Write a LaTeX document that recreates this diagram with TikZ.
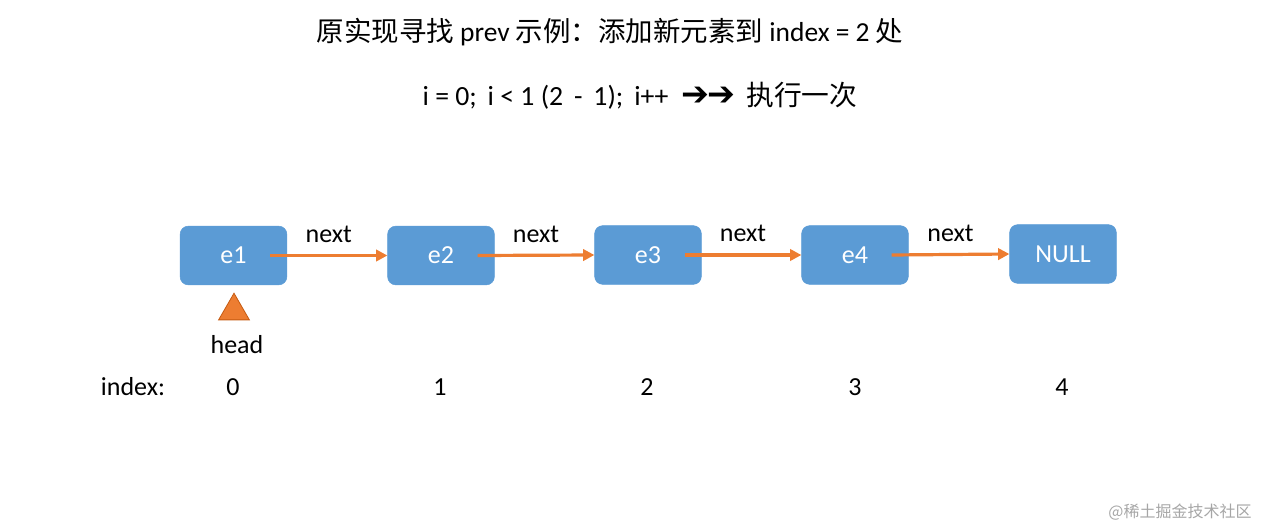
\documentclass[tikz,border=0pt]{standalone}
\usepackage{fontspec}
\setmainfont{Carlito}
\newfontfamily\cjk{Noto Sans CJK SC}
\newfontfamily\symf{DejaVu Sans}
\usetikzlibrary{arrows.meta,shapes.geometric}
\definecolor{boxblue}{HTML}{5B9BD5}
\definecolor{arrorange}{HTML}{ED7D31}
\definecolor{triedge}{HTML}{C55A11}
\begin{document}
\begin{tikzpicture}[x=0.75pt,y=-0.75pt,
  lbox/.style={rectangle,rounded corners=6pt,fill=boxblue,draw=boxblue,minimum width=80pt,minimum height=44pt,text=white,font=\fontsize{19.5pt}{22pt}\selectfont,inner sep=0pt},
  nextarr/.style={draw=arrorange,line width=2.4pt,-{Triangle[length=8.5pt,width=8.5pt]}},
  lbl/.style={font=\fontsize{19.5pt}{22pt}\selectfont,inner sep=0pt},
  ttl/.style={font=\fontsize{20.6pt}{24pt}\selectfont,inner sep=0pt}]
\useasboundingbox (0,0) rectangle (1267,528);
\node[ttl] (title) at (610,32) {{\cjk 原实现寻找} prev {\cjk 示例：添加新元素到} index = 2 {\cjk 处}};
\node[ttl,font=\fontsize{20.8pt}{24pt}\selectfont] (loop) at (640,96) {i = 0;\, i < 1 (2 \,-\, 1);\, i++ \ {\symf\fontsize{25pt}{26pt}\selectfont ➔\kern-1pt➔}\, {\cjk 执行一次}};
\node[lbox] (e1) at (233.5,255.5) {e1};
\node[lbox] (e2) at (441,255.5) {e2};
\node[lbox] (e3) at (648,255) {e3};
\node[lbox] (e4) at (855,255) {e4};
\node[lbox] (null) at (1063,254) {NULL};
\draw[nextarr] ([xshift=-12.75pt]e1.east) -- node[lbl,above=8.5pt] (n1) {next} (e2.west);
\draw[nextarr] ([xshift=-12.75pt]e2.east) -- node[lbl,above=8.5pt] (n2) {next} (e3.west);
\draw[nextarr] ([xshift=-12.75pt]e3.east) -- node[lbl,above=8.5pt] (n3) {next} (e4.west);
\draw[nextarr] ([xshift=-12.75pt]e4.east) -- node[lbl,above=8.5pt] (n4) {next} (null.west);
\node[isosceles triangle,isosceles triangle apex angle=60,shape border rotate=90,fill=arrorange,draw=triedge,line width=0.6pt,minimum height=20pt,inner sep=0pt] (tri) at (234,311) {};
\node[lbl] (head) at (237,345) {head};
\node[lbl] (idx) at (133,387) {index:};
\node[lbl] (i0) at (233,387) {0};
\node[lbl] (i1) at (440,387) {1};
\node[lbl] (i2) at (647,387) {2};
\node[lbl] (i3) at (855,387) {3};
\node[lbl] (i4) at (1062,387) {4};
\node[font=\cjk\fontsize{12pt}{14pt}\selectfont,text=black!35,inner sep=0pt] (wm) at (1180,512) {@稀土掘金技术社区};
\end{tikzpicture}
\end{document}
